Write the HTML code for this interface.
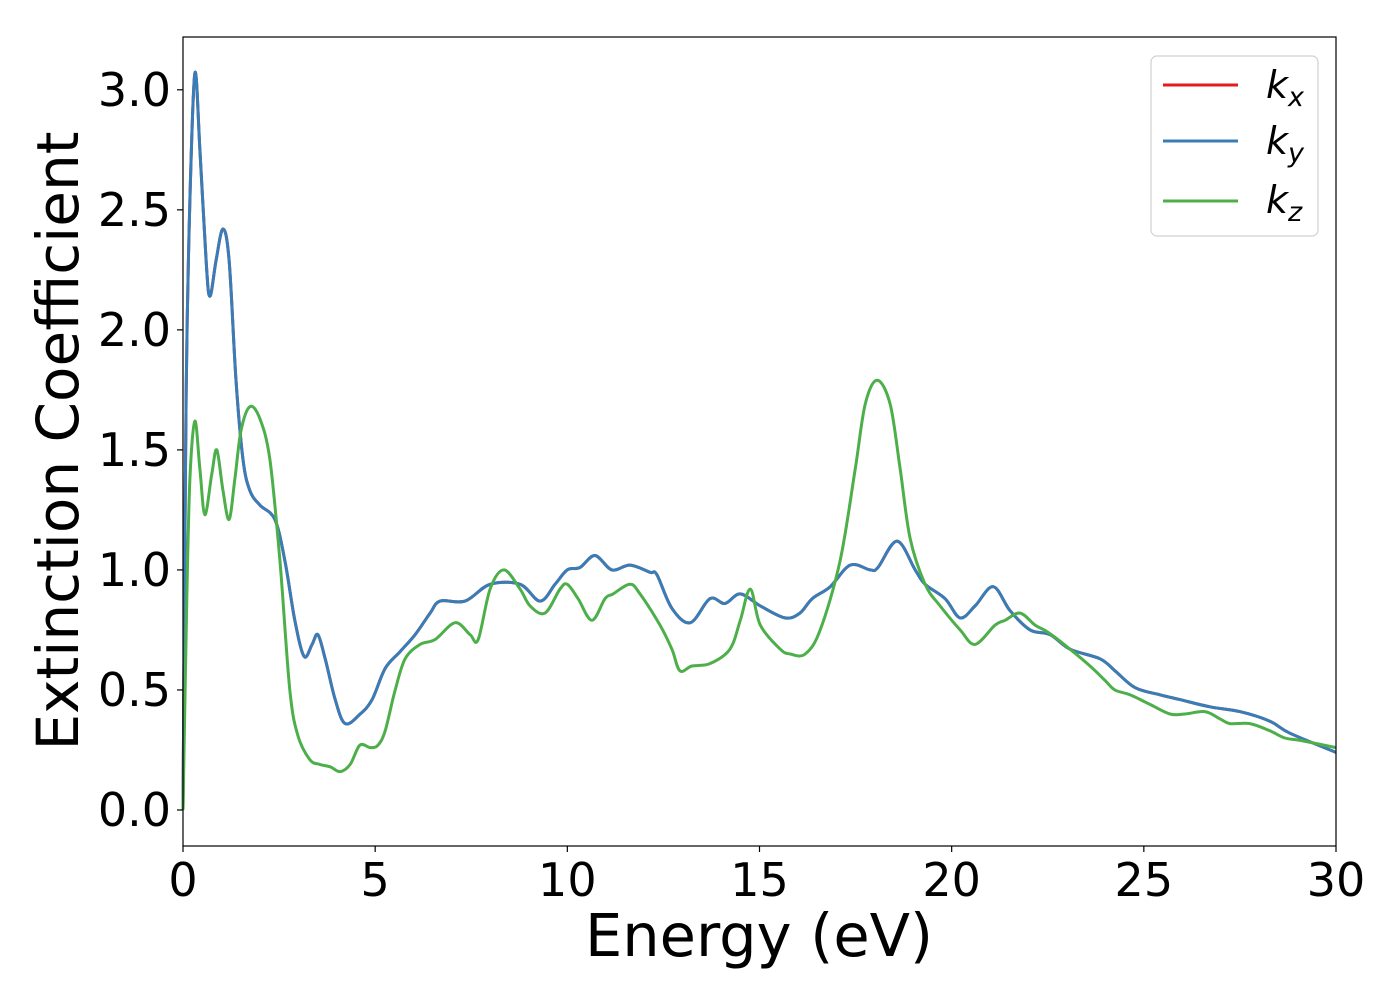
<!DOCTYPE html>
<html><head><meta charset="utf-8"><style>
body{margin:0;background:#fff;}
svg{display:block;font-family:"DejaVu Sans","Liberation Sans",sans-serif;}
</style></head><body>
<svg id="chart" width="1400" height="1000" viewBox="0 0 1400 1000" xmlns="http://www.w3.org/2000/svg">
<rect x="0" y="0" width="1400" height="1000" fill="#fff"/>
<g id="series"></g>
<g id="axes"></g>
<rect x="183" y="37" width="1153" height="809" fill="none" stroke="#000" stroke-width="1.2"/>
<text x="759" y="956" font-size="59" text-anchor="middle">Energy (eV)</text>
<text transform="translate(78,441) rotate(-90)" font-size="58" text-anchor="middle">Extinction Coefficient</text>
<g>
<rect x="1151" y="56" width="167" height="180" rx="6" fill="#fff" stroke="#d0d0d0" stroke-width="1.2"/>
<line x1="1163" y1="85" x2="1238" y2="85" stroke="#e41a1c" stroke-width="3"/>
<text x="1266" y="98" font-size="38" font-style="italic">k<tspan font-size="27" dy="8">x</tspan></text>
<line x1="1163" y1="141" x2="1238" y2="141" stroke="#377eb8" stroke-width="3"/>
<text x="1266" y="154" font-size="38" font-style="italic">k<tspan font-size="27" dy="8">y</tspan></text>
<line x1="1163" y1="201" x2="1238" y2="201" stroke="#4daf4a" stroke-width="3"/>
<text x="1266" y="213" font-size="38" font-style="italic">k<tspan font-size="27" dy="8">z</tspan></text>
</g>
</svg>
<script>
const xTicks = [0,5,10,15,20,25,30];
const yTicks = [0.0,0.5,1.0,1.5,2.0,2.5,3.0];
const xTickLabels = ["0","5","10","15","20","25","30"];
const yTickLabels = ["0.0","0.5","1.0","1.5","2.0","2.5","3.0"];
const kxyE = [0,0.08,0.18,0.31,0.44,0.60,0.70,0.86,1.04,1.20,1.38,1.56,1.74,2.00,2.39,2.65,2.91,3.15,3.36,3.51,3.70,3.96,4.22,4.61,4.92,5.26,5.65,6.04,6.43,6.69,7.34,7.99,8.77,9.29,9.68,10.0,10.33,10.72,11.16,11.63,12.15,12.33,12.72,13.2,13.71,14.1,14.5,15.02,15.66,16.05,16.37,16.84,17.36,17.88,18.08,18.58,19.05,19.31,19.83,20.22,20.61,21.08,21.52,22.04,22.56,23.08,23.86,24.25,24.77,25.42,25.94,26.72,27.5,28.28,28.80,30];
const kxV = [0,1.71,2.54,3.07,2.75,2.29,2.14,2.29,2.42,2.29,1.79,1.46,1.33,1.27,1.21,1.04,0.79,0.64,0.69,0.73,0.63,0.46,0.36,0.40,0.46,0.59,0.66,0.73,0.82,0.87,0.87,0.94,0.94,0.87,0.94,1.00,1.01,1.06,1.00,1.02,0.99,0.98,0.84,0.78,0.88,0.86,0.90,0.85,0.80,0.82,0.88,0.93,1.02,1.00,1.01,1.12,1.00,0.94,0.88,0.80,0.85,0.93,0.83,0.75,0.73,0.67,0.63,0.58,0.51,0.48,0.46,0.43,0.41,0.37,0.32,0.24];
const kyV = [0,1.71,2.54,3.07,2.75,2.29,2.14,2.29,2.42,2.29,1.79,1.46,1.33,1.27,1.21,1.04,0.79,0.64,0.69,0.73,0.63,0.46,0.36,0.40,0.46,0.59,0.66,0.73,0.82,0.87,0.87,0.94,0.94,0.87,0.94,1.00,1.01,1.06,1.00,1.02,0.99,0.98,0.84,0.78,0.88,0.86,0.90,0.85,0.80,0.82,0.88,0.93,1.02,1.00,1.01,1.12,1.00,0.94,0.88,0.80,0.85,0.93,0.83,0.75,0.73,0.67,0.63,0.58,0.51,0.48,0.46,0.43,0.41,0.37,0.32,0.24];
const kzE = [0,0.1,0.18,0.31,0.44,0.57,0.75,0.88,1.04,1.2,1.35,1.51,1.74,2.0,2.26,2.52,2.78,2.99,3.3,3.56,3.83,4.09,4.35,4.6,4.87,5.07,5.26,5.52,5.78,6.17,6.56,7.08,7.47,7.68,7.99,8.35,8.77,9.03,9.42,9.81,10.0,10.28,10.64,10.98,11.19,11.63,11.89,12.41,12.72,12.93,13.24,13.71,14.23,14.5,14.76,15.02,15.54,15.80,16.19,16.58,17.10,17.49,17.75,18.06,18.40,18.66,18.92,19.31,19.70,20.22,20.61,21.13,21.39,21.78,22.17,22.51,23.08,23.60,23.99,24.25,24.64,25.16,25.68,26.07,26.59,26.98,27.24,27.76,28.28,28.67,29.07,30];
const kzV = [0,0.88,1.38,1.62,1.42,1.23,1.40,1.50,1.33,1.21,1.38,1.58,1.68,1.63,1.46,1.04,0.50,0.31,0.21,0.19,0.18,0.16,0.19,0.27,0.26,0.27,0.33,0.50,0.63,0.69,0.71,0.78,0.73,0.71,0.92,1.00,0.92,0.85,0.82,0.92,0.94,0.88,0.79,0.88,0.90,0.94,0.90,0.77,0.67,0.58,0.60,0.61,0.67,0.79,0.92,0.77,0.67,0.65,0.65,0.75,1.04,1.42,1.69,1.79,1.69,1.42,1.13,0.94,0.85,0.75,0.69,0.77,0.79,0.82,0.77,0.74,0.67,0.60,0.54,0.50,0.48,0.44,0.40,0.40,0.41,0.38,0.36,0.36,0.33,0.30,0.29,0.26];

const X0=183,X1=1336,Y0=846,Y1=37,XMIN=0,XMAX=30,YMIN=-0.15,YMAX=3.22;
const sx=v=>X0+(v-XMIN)/(XMAX-XMIN)*(X1-X0);
const sy=v=>Y0-(v-YMIN)/(YMAX-YMIN)*(Y0-Y1);
const NS="http://www.w3.org/2000/svg";
function smoothPath(xs,ys){
  const p=xs.map((x,i)=>[sx(x),sy(ys[i])]);
  let d="M"+p[0][0].toFixed(1)+","+p[0][1].toFixed(1);
  for(let i=0;i<p.length-1;i++){
    const a=p[Math.max(0,i-1)],b=p[i],c=p[i+1],e=p[Math.min(p.length-1,i+2)];
    const c1=[b[0]+(c[0]-a[0])/6,b[1]+(c[1]-a[1])/6];
    const c2=[c[0]-(e[0]-b[0])/6,c[1]-(e[1]-b[1])/6];
    d+=" C"+c1[0].toFixed(1)+","+c1[1].toFixed(1)+" "+c2[0].toFixed(1)+","+c2[1].toFixed(1)+" "+c[0].toFixed(1)+","+c[1].toFixed(1);
  }
  return d;
}
const series=document.getElementById("series");
const defs=[["kx",kxyE,kxV,"#e41a1c"],["ky",kxyE,kyV,"#377eb8"],["kz",kzE,kzV,"#4daf4a"]];
defs.forEach(s=>{
  const path=document.createElementNS(NS,"path");
  path.setAttribute("d",smoothPath(s[1],s[2]));
  path.setAttribute("fill","none");
  path.setAttribute("stroke",s[3]);
  path.setAttribute("stroke-width","3");
  path.setAttribute("stroke-linejoin","round");
  
  
  series.appendChild(path);
});
const axes=document.getElementById("axes");
xTicks.forEach((v,i)=>{
  const l=document.createElementNS(NS,"line");
  l.setAttribute("x1",sx(v));l.setAttribute("x2",sx(v));
  l.setAttribute("y1",Y0);l.setAttribute("y2",Y0+6);
  l.setAttribute("stroke","#000");l.setAttribute("stroke-width","1.2");
  
  
  axes.appendChild(l);
  const t=document.createElementNS(NS,"text");
  t.setAttribute("x",sx(v));t.setAttribute("y",Y0+50);
  t.setAttribute("font-size","46");t.setAttribute("text-anchor","middle");
  t.textContent=xTickLabels[i];
  
  
  axes.appendChild(t);
});
yTicks.forEach((v,i)=>{
  const l=document.createElementNS(NS,"line");
  l.setAttribute("x1",X0-6);l.setAttribute("x2",X0);
  l.setAttribute("y1",sy(v));l.setAttribute("y2",sy(v));
  l.setAttribute("stroke","#000");l.setAttribute("stroke-width","1.2");
  
  
  axes.appendChild(l);
  const t=document.createElementNS(NS,"text");
  t.setAttribute("x",X0-12);t.setAttribute("y",sy(v)+16);
  t.setAttribute("font-size","46");t.setAttribute("text-anchor","end");
  t.textContent=yTickLabels[i];
  
  
  axes.appendChild(t);
});
</script>
</body></html>
